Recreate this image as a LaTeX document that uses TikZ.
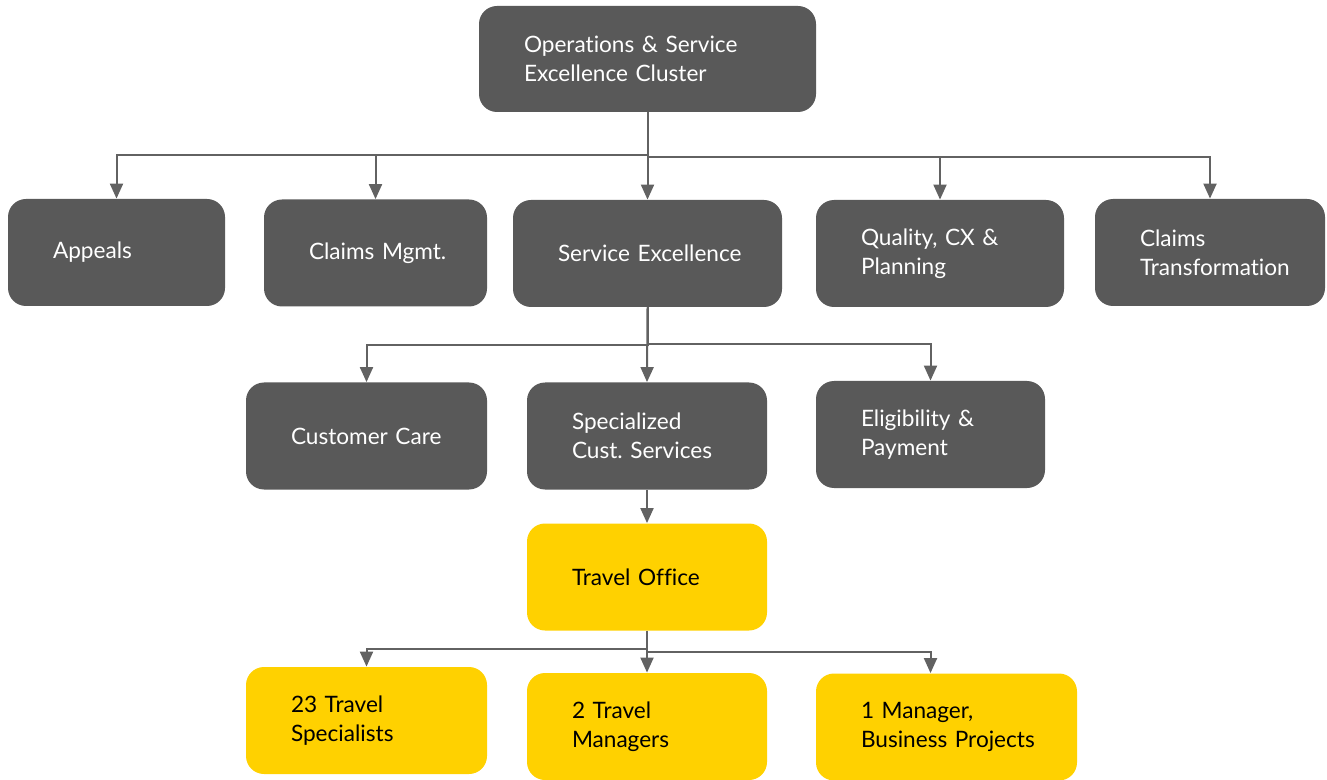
\documentclass[tikz,border=0pt]{standalone}
\usepackage{fontspec}
\setmainfont{Lato}[Ligatures=NoCommon]
\usepackage{tikz}
\usetikzlibrary{arrows.meta,positioning}
\frenchspacing

\definecolor{boxgray}{HTML}{595959}
\definecolor{boxyellow}{HTML}{FFD100}
\definecolor{linegray}{HTML}{626262}

\begin{document}
\begin{tikzpicture}[
                    x=0.5pt, y=-0.5pt,
                    every node/.style={font=\fontsize{11.3pt}{14.5pt}\selectfont},
                    orgbox/.style={rounded corners=9pt, minimum height=53.5pt, inner xsep=0pt, inner ysep=0pt,
                                   text width=#1*0.5pt, align=left, execute at begin node={\leftskip=22.5pt}},
                    grayunit/.style={orgbox=#1, fill=boxgray, text=white},
                    yellowunit/.style={orgbox=#1, fill=boxyellow, text=black},
                    link/.style={draw=linegray, line width=1pt, -{Triangle[width=6.5pt, length=7.5pt]}}
                ]
                    \useasboundingbox (0,0) rectangle (1327,780);

                    % cluster head
                    \node[grayunit=337, minimum height=53pt] (cluster) at (647.5,59) {Operations \& Service\\Excellence Cluster};

                    % departments
                    \node[grayunit=217] (appeals) at (116.5,252.5) {Appeals};
                    \node[grayunit=223] (claims) at (375.5,253) {Claims Mgmt.};
                    \node[grayunit=269] (service) at (647.5,253.5) {Service Excellence};
                    \node[grayunit=248] (quality) at (940,253.5) {Quality, CX \&\\Planning};
                    \node[grayunit=230] (transform) at (1210,252.5) {Claims\\Transformation};

                    % service excellence teams
                    \node[grayunit=241] (care) at (366.5,436) {Customer Care};
                    \node[grayunit=240] (special) at (647,436) {Specialized\\Cust. Services};
                    \node[grayunit=229] (elig) at (930.5,434.5) {Eligibility \&\\Payment};

                    \node[yellowunit=240] (travel) at (647,577) {Travel Office};

                    % travel office staff
                    \node[yellowunit=241] (spec23) at (366.5,720.5) {23 Travel\\Specialists};
                    \node[yellowunit=240] (mgr2) at (647,726.5) {2 Travel\\Managers};
                    \node[yellowunit=261] (mgr1) at (946.5,727) {1 Manager,\\Business Projects};

                    % bus points
                    \coordinate (busL1) at (647.5,155);
                    \coordinate (busR1) at (647.5,157);
                    \coordinate (busL2) at (647.5,345);
                    \coordinate (busR2) at (647.5,344);
                    \coordinate (busL4) at (647,649);
                    \coordinate (busR4) at (647,652);

                    \draw[link] (cluster.south) -- (busL1) -| (appeals.north);
                    \draw[link] (cluster.south) -- (busL1) -| (claims.north);
                    \draw[link] (cluster.south) -- (service.north);
                    \draw[link] (cluster.south) -- (busR1) -| (quality.north);
                    \draw[link] (cluster.south) -- (busR1) -| (transform.north);

                    \draw[link] (service.south) -- (busL2) -| (care.north);
                    \draw[link] (service.south) -- (special.north);
                    \draw[link] (service.south) -- (busR2) -| (elig.north);

                    \draw[link] (special.south) -- (travel.north);

                    \draw[link] (travel.south) -- (busL4) -| (spec23.north);
                    \draw[link] (travel.south) -- (mgr2.north);
                    \draw[link] (travel.south) -- (busR4) -| (elig.north |- mgr1.north);
                \end{tikzpicture}
\end{document}
